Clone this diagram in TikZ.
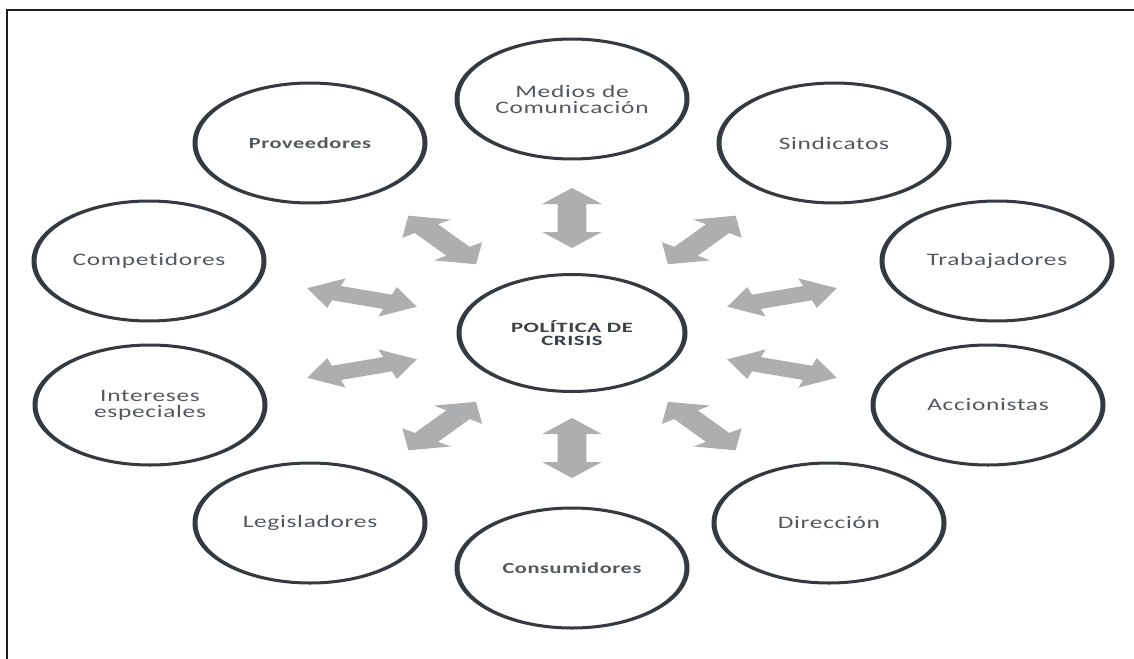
\documentclass[tikz,border=0pt]{standalone}
\usepackage{fontspec}
\usetikzlibrary{shapes.geometric}
\newfontfamily\lblfont[FakeStretch=1.45, LetterSpace=4, Ligatures=NoCommon]{Carlito}
\newfontfamily\ctrfont[FakeStretch=1.6, LetterSpace=4, Ligatures=NoCommon]{Carlito}
\definecolor{framecol}{HTML}{1E1E1E}
\definecolor{ellcol}{HTML}{343A40}
\definecolor{txtcol}{HTML}{52585E}
\definecolor{ctrtxt}{HTML}{3A4046}
\definecolor{arrowcol}{HTML}{ADAEB0}
\begin{document}
\begin{tikzpicture}[x=1pt,y=-1pt,
  stake/.style={ellipse, draw=none, minimum width=232pt,
    minimum height=120pt, inner sep=0pt, text=txtcol, align=center,
    font=\lblfont\fontsize{17.5}{16}\selectfont},
  stakebold/.style={stake, font=\lblfont\bfseries\fontsize{15.4}{16}\selectfont},
  hub/.style={ellipse, draw=none, minimum width=228pt,
    minimum height=117pt, inner sep=0pt, text=ctrtxt, align=center,
    font=\ctrfont\bfseries\fontsize{14.2}{13.5}\selectfont},
  ring/.style={fill=ellcol, even odd rule},
  blockarrow/.style={fill=arrowcol, draw=none}]
\useasboundingbox (0,0) rectangle (1134,658);
\fill[white] (0,0) rectangle (1134,658);
% frame
\coordinate (fTL) at (7,10);
\coordinate (fTR) at (1136,10);
\coordinate (fBL) at (7,660);
\draw[framecol, line width=2.5pt] (fTR) -- (fTL) -- (fBL);
% hub
\node[hub] (hub) at (572,333) {POLÍTICA DE\\CRISIS};
\fill[ring] (hub.center) ellipse [x radius=115.5, y radius=60]
                         ellipse [x radius=110.5, y radius=57];
% stakeholders
\node[stake] (medios) at (572,99) {Medios de\\Comunicación};
\node[stakebold] (prov) at (310,143) {Proveedores};
\node[stake] (sind) at (834,143) {Sindicatos};
\node[stake] (comp) at (149,261) {Competidores};
\node[stake] (trab) at (997,261) {Trabajadores};
\node[stake] (inter) at (150,405) {Intereses\\especiales};
\node[stake] (accio) at (988,405) {Accionistas};
\node[stake] (legis) at (310,523) {Legisladores};
\node[stake] (direc) at (829,523) {Dirección};
\node[stakebold] (consu) at (572,568) {Consumidores};
\foreach \n in {medios,prov,sind,comp,trab,inter,accio,legis,direc,consu} {
  \fill[ring] (\n.center) ellipse [x radius=117.5, y radius=61.5]
                          ellipse [x radius=112.5, y radius=58.5];
}
% block arrows (drawn unstretched, then stretched horizontally)
\foreach \ang in {18,54,90,126,162,198,234,270,306,342} {
  \fill[blockarrow, shift={(hub.center)}, xscale=1.92, rotate=\ang]
    (85,0) -- (101,15.5) -- (101,7.5) -- (129,7.5) -- (129,15.5) -- (145,0)
    -- (129,-15.5) -- (129,-7.5) -- (101,-7.5) -- (101,-15.5) -- cycle;
}
\end{tikzpicture}
\end{document}
